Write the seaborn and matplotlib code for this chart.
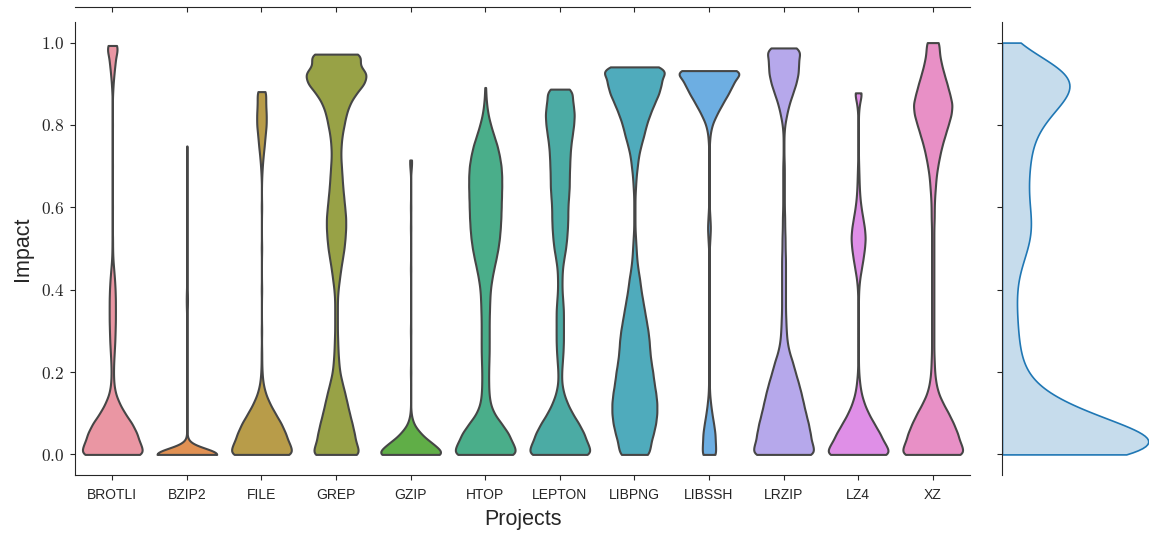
import numpy as np
import pandas as pd
import matplotlib
matplotlib.use("Agg")
import matplotlib.pyplot as plt
import seaborn as sns
from matplotlib.ticker import FuncFormatter

sns.set_style("ticks")
plt.rcParams["font.family"] = ["Liberation Sans", "DejaVu Sans"]
plt.rcParams["mathtext.fontset"] = "cm"

projects = ["BROTLI", "BZIP2", "FILE", "GREP", "GZIP", "HTOP",
            "LEPTON", "LIBPNG", "LIBSSH", "LRZIP", "LZ4", "XZ"]

impact_levels = [0.000, 0.025, 0.050, 0.075, 0.100, 0.125, 0.150, 0.175, 0.200, 0.225,
                 0.250, 0.275, 0.300, 0.325, 0.350, 0.375, 0.400, 0.425, 0.450, 0.475,
                 0.500, 0.525, 0.550, 0.575, 0.600, 0.625, 0.650, 0.675, 0.700, 0.725,
                 0.750, 0.775, 0.800, 0.825, 0.850, 0.875, 0.900, 0.925, 0.950, 0.975]

brotli_counts = [120, 98, 88, 70, 44, 24, 10, 5, 4, 5, 7, 9, 10, 11, 11, 11, 10, 8, 5, 2,
                 1, 1, 0, 0, 1, 0, 0, 0, 1, 0, 0, 0, 1, 0, 0, 1, 3, 6, 10, 13]
bzip2_counts = [200, 3, 1, 0, 1, 0, 1, 0, 1, 0, 0, 0, 1, 0, 2, 3, 2, 0, 0, 0,
                1, 0, 0, 0, 1, 0, 0, 0, 1, 0, 0, 0, 0, 0, 0, 0, 0, 0, 0, 0]
file_counts = [120, 98, 86, 70, 48, 28, 13, 5, 2, 1, 1, 0, 1, 0, 0, 0, 1, 0, 0, 0,
               1, 0, 0, 0, 1, 0, 0, 1, 3, 6, 10, 13, 17, 17, 15, 12, 0, 0, 0, 0]
grep_counts = [76, 60, 55, 48, 40, 33, 26, 18, 11, 8, 6, 5, 4, 4, 4, 4, 6, 10, 14, 19,
               24, 27, 29, 29, 26, 23, 20, 18, 16, 14, 15, 18, 24, 30, 40, 58, 85, 95, 60, 0]
gzip_counts = [120, 72, 32, 8, 1, 0, 0, 0, 1, 0, 0, 0, 1, 0, 0, 0, 0, 0, 1, 0,
               0, 0, 1, 0, 1, 0, 0, 0, 2, 0, 0, 0, 0, 0, 0, 0, 0, 0, 0, 0]
htop_counts = [120, 97, 83, 57, 30, 17, 13, 12, 12, 13, 14, 14, 14, 14, 15, 16, 18, 23, 30, 38,
               45, 50, 53, 55, 56, 57, 58, 58, 56, 50, 42, 30, 19, 10, 5, 2, 0, 0, 0, 0]
lepton_counts = [93, 76, 67, 52, 34, 20, 10, 5, 5, 7, 9, 10, 10, 10, 10, 8, 6, 6, 7, 11,
                 16, 19, 21, 22, 22, 24, 26, 26, 27, 28, 30, 34, 38, 40, 37, 29, 0, 0, 0, 0]
libpng_counts = [26, 27, 32, 36, 38, 38, 36, 33, 31, 28, 26, 25, 23, 20, 17, 14, 11, 9, 6, 4,
                 3, 2, 1, 1, 1, 1, 2, 3, 5, 7, 11, 16, 20, 26, 33, 41, 46, 44, 0, 0]
libssh_counts = [38, 33, 32, 24, 15, 8, 3, 2, 0, 0, 0, 0, 0, 0, 0, 0, 0, 0, 0, 0,
                 2, 5, 8, 5, 2, 0, 0, 0, 0, 0, 2, 5, 15, 39, 68, 99, 128, 105, 0, 0]
lrzip_counts = [86, 73, 69, 64, 57, 51, 45, 38, 30, 23, 14, 9, 7, 6, 5, 5, 5, 5, 5, 5,
                4, 4, 3, 3, 2, 2, 2, 2, 2, 1, 1, 1, 3, 8, 14, 23, 32, 38, 39, 36]
lz4_counts = [120, 92, 76, 55, 35, 20, 10, 5, 2, 1, 1, 0, 1, 0, 1, 1, 2, 5, 11, 17,
              22, 25, 22, 16, 10, 6, 4, 3, 2, 1, 1, 0, 1, 1, 4, 8, 0, 0, 0, 0]
xz_counts = [88, 72, 65, 54, 41, 26, 14, 8, 5, 4, 3, 3, 3, 3, 3, 3, 3, 3, 3, 3,
             3, 3, 3, 4, 4, 5, 7, 9, 13, 18, 24, 32, 40, 48, 51, 44, 37, 29, 22, 17]

# highest observed impact per project and how often it occurs
top_impact = [0.993, 0.749, 0.881, 0.972, 0.715, 0.891, 0.887, 0.941, 0.932, 0.987, 0.878, 1.000]
top_count = [16, 1, 6, 75, 3, 1, 16, 35, 105, 21, 6, 17]

all_counts = [brotli_counts, bzip2_counts, file_counts, grep_counts, gzip_counts, htop_counts,
              lepton_counts, libpng_counts, libssh_counts, lrzip_counts, lz4_counts, xz_counts]

rows = []
for name, counts, top, ntop in zip(projects, all_counts, top_impact, top_count):
    vals = np.concatenate([np.repeat(impact_levels, counts), np.full(ntop, top)])
    rows.append(pd.DataFrame({"Projects": name, "Impact": vals}))
df = pd.concat(rows, ignore_index=True)

VIOLIN_BW = 0.015


def fixed_bandwidth(kde):
    return VIOLIN_BW / np.std(kde.dataset, ddof=1)


W, H = 1149, 535
fig = plt.figure(figsize=(W / 100, H / 100), dpi=100)
ax = fig.add_axes([75 / W, (H - 475) / H, 895 / W, 453 / H])
ax_top = fig.add_axes([75 / W, (H - 7) / H, 895 / W, 6 / H], sharex=ax)
ax_right = fig.add_axes([1002 / W, (H - 475) / H, 147 / W, 453 / H], sharey=ax)

palette = sns.husl_palette(len(projects), l=.7)
sns.violinplot(data=df, x="Projects", y="Impact", hue="Projects", order=projects,
               hue_order=projects, palette=palette, legend=False, cut=0,
               density_norm="width", inner=None, bw_method=fixed_bandwidth,
               gridsize=300, linewidth=1.5, width=0.8, ax=ax)

sns.kdeplot(y=df["Impact"], ax=ax_right, fill=True, color="#1f77b4", cut=0,
            bw_adjust=0.7, linewidth=1.2)

ax.set_ylim(-0.05, 1.05)
ax.set_xlim(-0.5, len(projects) - 0.5)
ax.set_yticks([0.0, 0.2, 0.4, 0.6, 0.8, 1.0])
ax.yaxis.set_major_formatter(FuncFormatter(lambda v, _: f"${v:.1f}$"))
ax.tick_params(axis="y", labelsize=12.5, pad=4)
ax.tick_params(axis="x", labelsize=10, pad=6)
ax.set_xlabel("Projects", fontsize=15.5, labelpad=5)
ax.set_ylabel("Impact", fontsize=15.5, labelpad=6)
sns.despine(ax=ax)

for s in ["left", "right", "top"]:
    ax_top.spines[s].set_visible(False)
ax_top.tick_params(axis="x", labelbottom=False, direction="out")
ax_top.tick_params(axis="y", left=False, labelleft=False)
ax_top.set_xlabel("")
ax_top.set_ylabel("")

for s in ["bottom", "right", "top"]:
    ax_right.spines[s].set_visible(False)
ax_right.tick_params(axis="y", labelleft=False)
ax_right.tick_params(axis="x", bottom=False, labelbottom=False)
ax_right.set_xlabel("")
ax_right.set_ylabel("")
xmax = max(p.vertices[:, 0].max() for p in ax_right.collections[0].get_paths())
ax_right.set_xlim(0, xmax * 1.005)
ax.set_ylim(-0.05, 1.05)

fig.savefig("out.png", dpi=100)
